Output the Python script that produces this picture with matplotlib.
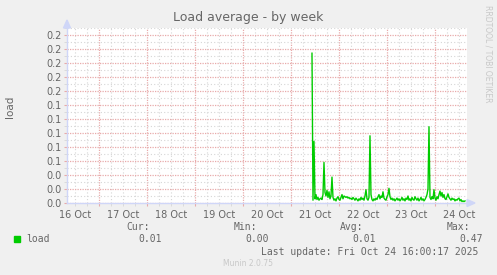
"""
Munin style "Load average - by week" graph redrawn with matplotlib.
"""

from datetime import datetime, timedelta

import matplotlib

matplotlib.use("Agg")
import matplotlib.dates as mdates
import matplotlib.pyplot as plt
from matplotlib.patches import Polygon, Rectangle
from matplotlib.ticker import FuncFormatter, MultipleLocator

# --- data (30 min steps, values in load units) ---
series_start = datetime(2025, 10, 21, 10, 30)
load_values = [
    0.214, 0.004, 0.088, 0.006, 0.012, 0.005, 0.008, 0.004, 0.006, 0.007,
    0.005, 0.012, 0.058, 0.015, 0.010, 0.018, 0.008, 0.016, 0.006, 0.010,
    0.037, 0.008, 0.004, 0.006, 0.003, 0.007, 0.009, 0.005, 0.004, 0.008,
    0.012, 0.006, 0.010, 0.009, 0.008, 0.009, 0.007, 0.008, 0.006, 0.007,
    0.005, 0.008, 0.006, 0.004, 0.007, 0.005, 0.003, 0.006, 0.004, 0.008,
    0.005, 0.007, 0.004, 0.010, 0.019, 0.006, 0.004, 0.008, 0.096, 0.012,
    0.005, 0.003, 0.006, 0.004, 0.007, 0.005, 0.009, 0.012, 0.006, 0.010,
    0.008, 0.016, 0.007, 0.005, 0.004, 0.009, 0.012, 0.021, 0.009, 0.005,
    0.007, 0.004, 0.006, 0.003, 0.005, 0.007, 0.004, 0.006, 0.003, 0.005,
    0.008, 0.004, 0.006, 0.003, 0.007, 0.005, 0.010, 0.004, 0.006, 0.003,
    0.008, 0.005, 0.004, 0.009, 0.006, 0.004, 0.007, 0.003, 0.005, 0.008,
    0.004, 0.006, 0.003, 0.005, 0.008, 0.012, 0.020, 0.109, 0.008, 0.005,
    0.009, 0.006, 0.019, 0.007, 0.004, 0.009, 0.006, 0.012, 0.017, 0.010,
    0.015, 0.008, 0.012, 0.006, 0.005, 0.009, 0.013, 0.008, 0.006, 0.004,
    0.007, 0.005, 0.006, 0.003, 0.005, 0.004, 0.006, 0.007, 0.003, 0.005,
    0.002, 0.003, 0.002, 0.003,
]
view_start = datetime(2025, 10, 16, 8, 0, 17)
view_end = datetime(2025, 10, 24, 16, 0, 17)

legend_headers = ["Cur:", "Min:", "Avg:", "Max:"]
legend_values = ["0.01", "0.00", "0.01", "0.47"]
series_name = "load"
last_update = "Last update: Fri Oct 24 16:00:17 2025"

# --- munin colours ---
BACK = "#F0F0F0"
FONT = "#666666"
AXIS = "#CFD6F8"
MGRID = "#E8AAAA"
GRID = "#D6D6D6"
LINE = "#00CC00"

W, H = 497, 275


def px(x, y):
    """pixel position (from top-left) to figure fraction"""
    return x / W, 1 - y / H


fig = plt.figure(figsize=(W / 100, H / 100), dpi=100, facecolor=BACK)
ax = fig.add_axes([67 / W, 1 - 203 / H, 400 / W, 175 / H])
ax.set_facecolor("white")

times = [series_start + timedelta(minutes=30 * i) for i in range(len(load_values))]
ax.plot(times, load_values, color=LINE, linewidth=1.0, zorder=5)

ax.set_xlim(view_start, view_end)
ax.set_ylim(0, 0.25)

# y grid: 0.02 major (red) with labels, 0.01 minor (grey)
ax.yaxis.set_major_locator(MultipleLocator(0.02))
ax.yaxis.set_minor_locator(MultipleLocator(0.01))
ax.yaxis.set_major_formatter(FuncFormatter(lambda v, p: f"{v:.1f}"))

# x grid: midnight major (red), 6 h minor (grey), day label at noon
ax.xaxis.set_major_locator(mdates.DayLocator())
ax.xaxis.set_minor_locator(mdates.HourLocator(byhour=[0, 6, 12, 18]))
ax.xaxis.set_major_formatter(FuncFormatter(lambda v, p: ""))


def noon_label(v, pos):
    d = mdates.num2date(v)
    return d.strftime("%d %b") if d.hour == 12 else ""


ax.xaxis.set_minor_formatter(FuncFormatter(noon_label))

ax.grid(which="minor", color=GRID, linestyle=(0, (1, 2)), linewidth=0.8, zorder=1)
ax.grid(which="major", color=MGRID, linestyle=(0, (1, 1)), linewidth=0.9, zorder=2)
ax.set_axisbelow(True)

for side in ["top", "right"]:
    ax.spines[side].set_visible(False)
for side in ["left", "bottom"]:
    ax.spines[side].set_color(AXIS)
    ax.spines[side].set_linewidth(1.0)

ax.tick_params(axis="both", which="both", labelsize=7, labelcolor=FONT, pad=2)
ax.tick_params(axis="both", which="major", color=MGRID, length=2, direction="out")
ax.tick_params(axis="both", which="minor", color=GRID, length=2, direction="out")
ax.tick_params(axis="x", which="minor", pad=3)

# axis arrows
fig.patches.append(Polygon([px(63.5, 28), px(70.5, 28), px(67, 20)], closed=True,
                           transform=fig.transFigure, color=AXIS))
fig.patches.append(Polygon([px(467, 199.5), px(467, 206.5), px(475, 203)], closed=True,
                           transform=fig.transFigure, color=AXIS))

# titles
fig.text(*px(248.5, 18), "Load average - by week", ha="center", va="center",
         fontsize=9, color=FONT)
fig.text(*px(10, 107), "load", ha="center", va="center", rotation=90,
         fontsize=7.5, color=FONT)
fig.text(*px(488, 5), "RRDTOOL / TOBI OETIKER", ha="center", va="top",
         rotation=270, fontsize=5.5, color="#C8C8C8")

# legend block
mono = "DejaVu Sans Mono"
header_x = [126.7, 233.7, 340, 446.7]
value_x = [138.7, 245.7, 352.7, 459.3]
for hx, txt in zip(header_x, legend_headers):
    fig.text(*px(hx, 227.5), txt, ha="left", va="center", fontsize=7,
             family=mono, color=FONT)
for vx, txt in zip(value_x, legend_values):
    fig.text(*px(vx, 239.5), txt, ha="left", va="center", fontsize=7,
             family=mono, color=FONT)
fig.patches.append(Rectangle(px(14, 242), 6 / W, 6 / H, transform=fig.transFigure,
                             color=LINE))
fig.text(*px(26.7, 239.5), series_name, ha="left", va="center", fontsize=7,
         family=mono, color=FONT)
fig.text(*px(261, 251.7), last_update, ha="left", va="center", fontsize=7,
         family=mono, color=FONT)
fig.text(*px(248, 263.5), "Munin 2.0.75", ha="center", va="center",
         fontsize=5.5, color="#C8C8C8")

fig.savefig("out.png", dpi=100, facecolor=BACK)
